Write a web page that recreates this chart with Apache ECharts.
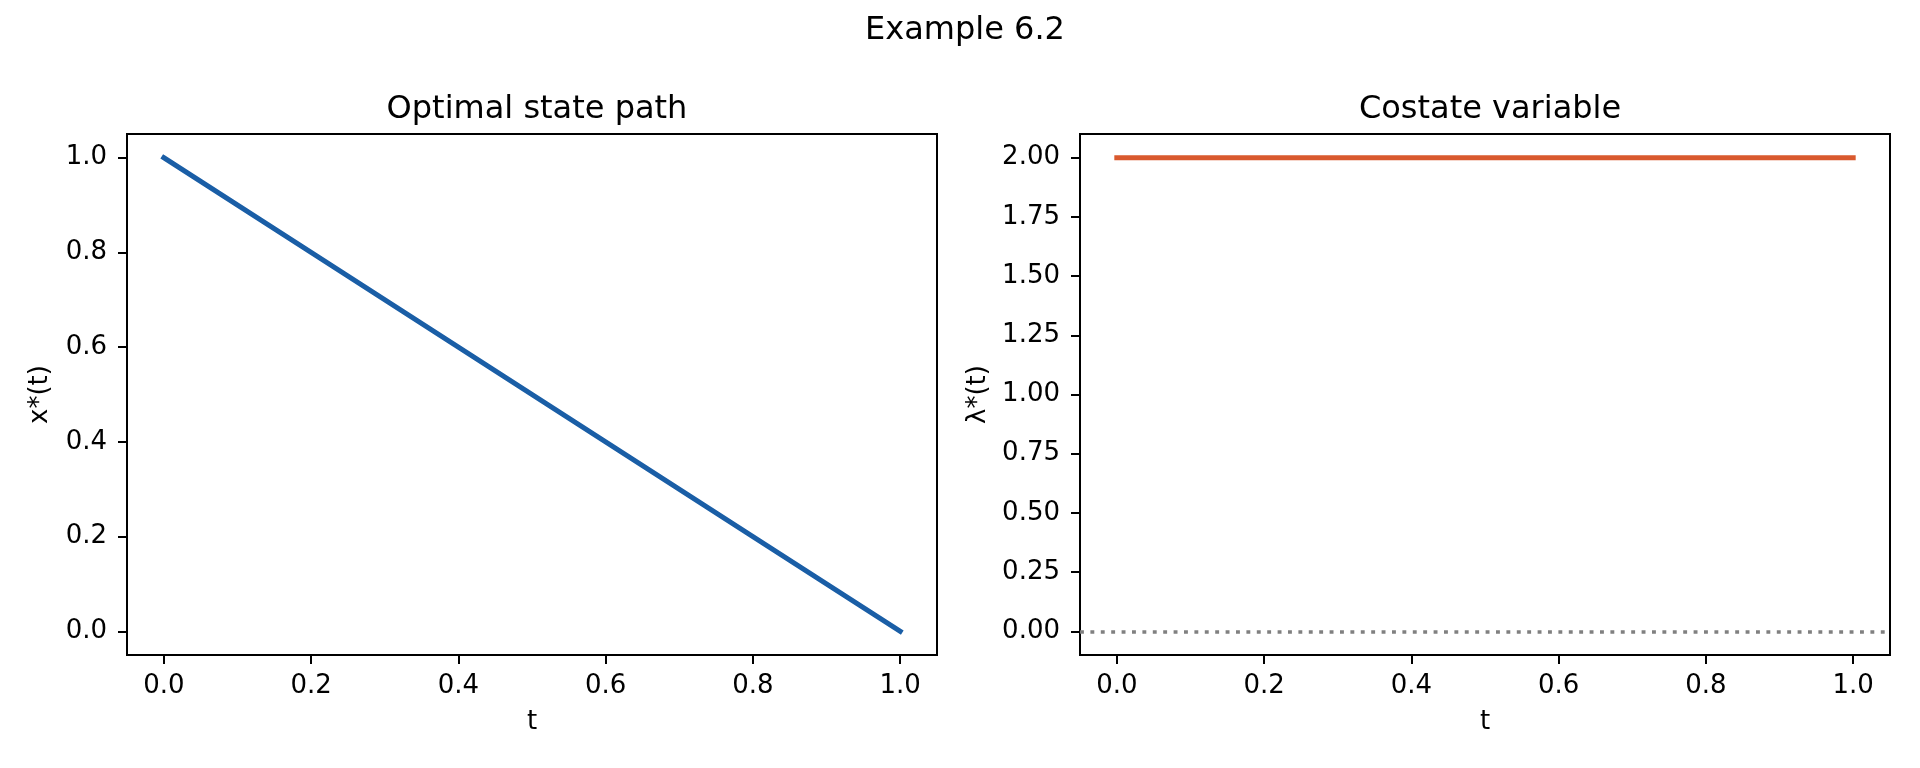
<!DOCTYPE html>
<html>
<head>
<meta charset="utf-8">
<script src="https://cdn.jsdelivr.net/npm/echarts@6/dist/echarts.min.js"></script>
<style>
html,body{margin:0;padding:0;background:#fff;}
#chart{width:1920px;height:768px;}
</style>
</head>
<body>
<div id="chart"></div>
<script>
// Data
const tValues = [0.0, 0.2, 0.4, 0.6, 0.8, 1.0];
const stateValues = [1.0, 0.8, 0.6, 0.4, 0.2, 0.0];
const costateValues = [2.0, 2.0, 2.0, 2.0, 2.0, 2.0];
const xTicks = [0.0, 0.2, 0.4, 0.6, 0.8, 1.0];
const yTicksLeft = [0.0, 0.2, 0.4, 0.6, 0.8, 1.0];
const yTicksRight = [0.0, 0.25, 0.5, 0.75, 1.0, 1.25, 1.5, 1.75, 2.0];
const referenceLevel = 0;

const FONT = 'DejaVu Sans';
const chart = echarts.init(document.getElementById('chart'), null, {renderer: 'canvas'});

function xAxisCfg(gridIndex) {
  return {
    type: 'value', gridIndex: gridIndex, min: -0.05, max: 1.05, position: 'bottom',
    name: 't', nameLocation: 'middle', nameGap: 54,
    nameTextStyle: {fontFamily: FONT, fontSize: 26, color: '#000'},
    axisLine: {show: false, onZero: false},
    splitLine: {show: false},
    axisTick: {show: true, length: 9, inside: false, customValues: xTicks, lineStyle: {color: '#000', width: 2}},
    axisLabel: {show: true, margin: 18, customValues: xTicks, fontFamily: FONT, fontSize: 26, color: '#000',
      formatter: v => Number(v).toFixed(1)}
  };
}
function yAxisCfg(gridIndex, min, max, ticks, decimals, name, gap) {
  return {
    type: 'value', gridIndex: gridIndex, min: min, max: max, position: 'left',
    name: name, nameLocation: 'middle', nameGap: gap, nameRotate: 90,
    nameTextStyle: {fontFamily: FONT, fontSize: 26, color: '#000'},
    axisLine: {show: false, onZero: false},
    splitLine: {show: false},
    axisTick: {show: true, length: 9, inside: false, customValues: ticks, lineStyle: {color: '#000', width: 2}},
    axisLabel: {show: true, margin: 20, customValues: ticks, fontFamily: FONT, fontSize: 26, color: '#000',
      formatter: v => Number(v).toFixed(decimals)}
  };
}

const option = {
  animation: false,
  backgroundColor: '#fff',
  title: [
    {text: 'Example 6.2', left: 960, top: 10, textAlign: 'center',
     textStyle: {fontFamily: FONT, fontSize: 32, fontWeight: 'normal', color: '#000'}},
    {text: 'Optimal state path', left: 532, top: 89, textAlign: 'center',
     textStyle: {fontFamily: FONT, fontSize: 32, fontWeight: 'normal', color: '#000'}},
    {text: 'Costate variable', left: 1485, top: 89, textAlign: 'center',
     textStyle: {fontFamily: FONT, fontSize: 32, fontWeight: 'normal', color: '#000'}}
  ],
  grid: [
    {left: 127, top: 134, width: 810, height: 521, show: true, borderColor: '#000', borderWidth: 2, backgroundColor: 'transparent', containLabel: false},
    {left: 1080, top: 134, width: 810, height: 521, show: true, borderColor: '#000', borderWidth: 2, backgroundColor: 'transparent', containLabel: false}
  ],
  xAxis: [xAxisCfg(0), xAxisCfg(1)],
  yAxis: [
    yAxisCfg(0, -0.05, 1.05, yTicksLeft, 1, 'x*(t)', 74),
    yAxisCfg(1, -0.1, 2.1, yTicksRight, 2, 'λ*(t)', 89)
  ],
  series: [
    {
      type: 'line', xAxisIndex: 0, yAxisIndex: 0,
      data: tValues.map((t, i) => [t, stateValues[i]]),
      showSymbol: false, symbol: 'none',
      lineStyle: {color: '#1a5ea6', width: 5, cap: 'square'},
      silent: true
    },
    {
      type: 'line', xAxisIndex: 1, yAxisIndex: 1,
      data: tValues.map((t, i) => [t, costateValues[i]]),
      showSymbol: false, symbol: 'none',
      lineStyle: {color: '#d9592e', width: 5, cap: 'square'},
      silent: true,
      markLine: {
        silent: true, symbol: ['none', 'none'],
        label: {show: false},
        lineStyle: {color: '#808080', width: 3.5, type: [3.9, 6.5]},
        emphasis: {disabled: true},
        data: [{yAxis: referenceLevel}]
      }
    }
  ]
};
chart.setOption(option);
</script>
</body>
</html>
